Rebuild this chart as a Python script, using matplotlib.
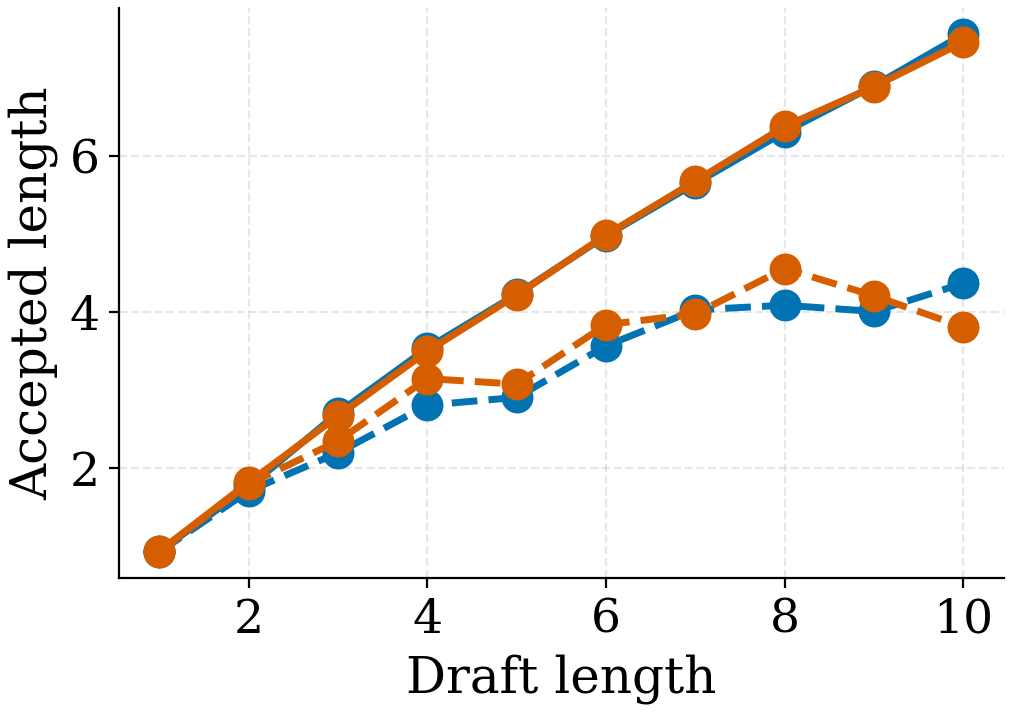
import matplotlib
matplotlib.use('Agg')
import matplotlib.pyplot as plt

draft_length = [1, 2, 3, 4, 5, 6, 7, 8, 9, 10]

blue_solid = [0.94, 1.76, 2.71, 3.54, 4.23, 4.98, 5.65, 6.31, 6.90, 7.56]
orange_solid = [0.94, 1.82, 2.67, 3.50, 4.22, 4.99, 5.68, 6.38, 6.89, 7.46]
blue_dashed = [0.93, 1.71, 2.20, 2.81, 2.91, 3.57, 4.03, 4.09, 4.01, 4.37]
orange_dashed = [0.93, 1.80, 2.35, 3.15, 3.08, 3.84, 3.98, 4.56, 4.21, 3.81]

BLUE = "#0173b2"
ORANGE = "#d55e00"

plt.rcParams["font.family"] = "DejaVu Serif"

fig, ax = plt.subplots(figsize=(5.06, 3.56), dpi=200)
ax.plot(draft_length, blue_solid, color=BLUE, linestyle="-", linewidth=2.5,
        marker="o", markersize=10.5)
ax.plot(draft_length, blue_dashed, color=BLUE, linestyle="--", linewidth=2.5,
        marker="o", markersize=10.5)
ax.plot(draft_length, orange_solid, color=ORANGE, linestyle="-", linewidth=2.5,
        marker="o", markersize=10.5)
ax.plot(draft_length, orange_dashed, color=ORANGE, linestyle="--", linewidth=2.5,
        marker="o", markersize=10.5)

ax.set_xlabel("Draft length", fontsize=18)
ax.set_ylabel("Accepted length", fontsize=18)
ax.set_xticks([2, 4, 6, 8, 10])
ax.set_yticks([2, 4, 6])
ax.tick_params(labelsize=17)
ax.grid(True, linestyle="--", alpha=0.3)
ax.spines["top"].set_visible(False)
ax.spines["right"].set_visible(False)

fig.tight_layout(pad=0.3)
fig.savefig("out.png", dpi=200)
